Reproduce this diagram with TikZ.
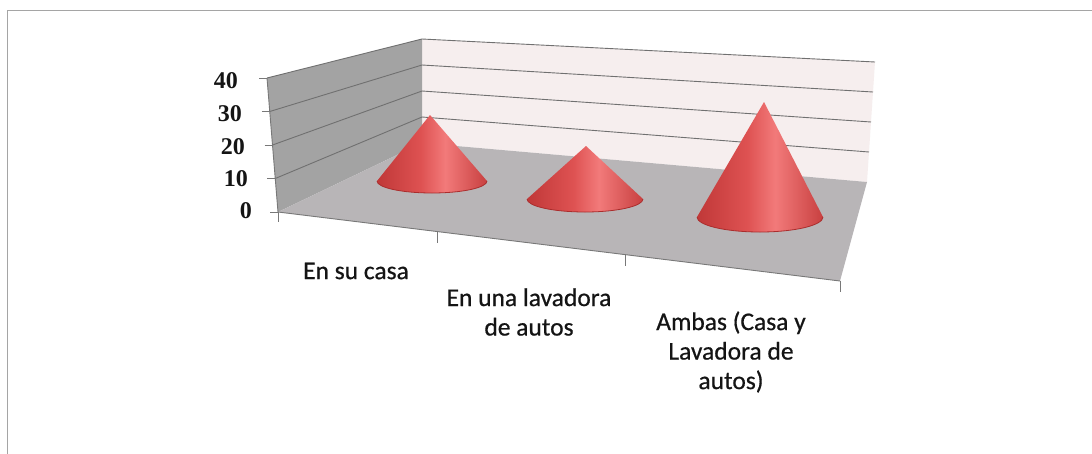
\documentclass[tikz,border=0pt]{standalone}
\usepackage{fontspec}
\setmainfont[FakeBold=0.6]{Carlito}
\newfontfamily\numfont{Liberation Serif}
\definecolor{framegray}{RGB}{165,165,165}
\definecolor{sidewall}{RGB}{163,163,163}
\definecolor{backwall}{RGB}{246,238,238}
\definecolor{floorgray}{RGB}{184,181,183}
\definecolor{gridgray}{RGB}{112,112,112}
\definecolor{edgegray}{RGB}{120,120,120}
\definecolor{conedark}{RGB}{192,56,56}
\definecolor{conemid}{RGB}{222,82,82}
\definecolor{conelight}{RGB}{242,122,122}
\definecolor{conedarkr}{RGB}{200,64,64}
\definecolor{conerim}{RGB}{170,45,45}
\definecolor{textcol}{RGB}{20,20,20}
\pgfdeclarehorizontalshading{conesh}{100bp}{color(0bp)=(conedark); color(25bp)=(conedark); color(45bp)=(conemid); color(56bp)=(conelight); color(75bp)=(conedarkr); color(100bp)=(conedarkr)}
\newcommand{\mycone}[6]{%
  \shade[shading=conesh] (#3-#5,#4) -- (#1,#2) -- (#3+#5,#4)
    .. controls +(0,0.5523*#6) and +(0.5523*#5,0) .. (#3,#4+#6)
    .. controls +(-0.5523*#5,0) and +(0,0.5523*#6) .. (#3-#5,#4) -- cycle;
  \draw[conerim, line width=0.8pt] (#3+#5,#4)
    .. controls +(0,0.5523*#6) and +(0.5523*#5,0) .. (#3,#4+#6)
    .. controls +(-0.5523*#5,0) and +(0,0.5523*#6) .. (#3-#5,#4);}
\tikzset{
  gridline/.style={draw=gridgray, line width=0.9pt},
  tickline/.style={draw=edgegray, line width=0.9pt},
  ylab/.style={anchor=east, inner sep=0pt, text=textcol, font=\numfont\bfseries\fontsize{24}{24}\selectfont},
  catlab/.style={align=center, inner sep=0pt, text=textcol, font=\fontsize{25.5}{29.5}\selectfont}
}
\begin{document}
\begin{tikzpicture}[x=1pt,y=-1pt]
\useasboundingbox (0,0) rectangle (1092,453);
\fill[white] (0,0) rectangle (1092,453);
\draw[framegray, line width=1.6pt] (7.5,10.5) rectangle (1120,480);
% corners
\coordinate (BLT) at (422,39);
\coordinate (BLB) at (422,143);
\coordinate (BRT) at (875,62);
\coordinate (BRB) at (867,182);
\coordinate (FLT) at (267,78);
\coordinate (FLB) at (278,212);
\coordinate (FRB) at (840,281);
% walls and floor
\fill[backwall] (BLT) -- (BRT) -- (BRB) -- (BLB) -- cycle;
\fill[sidewall] (FLT) -- (BLT) -- (BLB) -- (FLB) -- cycle;
\fill[floorgray] (BLB) -- (BRB) -- (FRB) -- (FLB) -- cycle;
% gridlines
\foreach \k in {1,2,3,4}{
  \draw[gridline] (422,143-26*\k) -- (867+2*\k,182-30*\k);
  \draw[gridline] (278-2.75*\k,212-33.5*\k) -- (422,143-26*\k);
}
% front edge of floor and ticks
\draw[tickline] (FLB) -- (FRB);
\draw[tickline] (FLT) -- (FLB);
\coordinate (T1) at (437,231.5);
\coordinate (T2) at (625,254.6);
\draw[tickline] (FLB) -- ++(0,10);
\draw[tickline] (T1) -- ++(0,11);
\draw[tickline] (T2) -- ++(0,11);
\draw[tickline] (FRB) -- ++(0,11);
% y ticks and labels
\foreach \k/\lx/\ly in {0/252/211,1/248/179,2/245/147,3/242/114,4/238/81}{
  \draw[tickline] (278-2.75*\k-8,212-33.5*\k) -- (278-2.75*\k,212-33.5*\k);
  \node[ylab] (y\k) at (\lx,\ly) {\the\numexpr\k*10\relax};
}
% cones
\mycone{430}{115}{432}{181}{55}{12}
\mycone{586}{146}{585}{199}{58}{13}
\mycone{764}{102}{760}{217}{63}{15}
% category labels
\node[catlab] (c1) at (356,271) {En su casa};
\node[catlab] (c2) at (529,312) {En una lavadora\\de autos};
\node[catlab] (c3) at (731,352) {Ambas (Casa y\\Lavadora de\\autos)};
\end{tikzpicture}
\end{document}
